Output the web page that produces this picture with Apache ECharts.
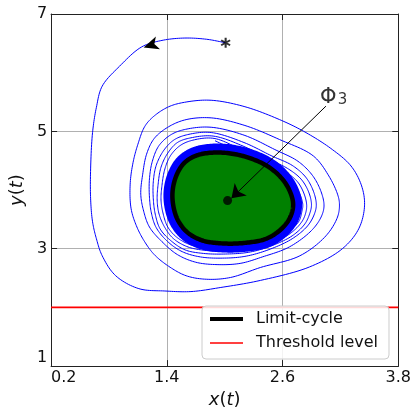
<!DOCTYPE html>
<html>
<head>
<meta charset="utf-8">
<script src="https://cdn.jsdelivr.net/npm/echarts@6/dist/echarts.min.js"></script>
<style>
  html, body { margin: 0; padding: 0; background: #fff; }
  #chart { width: 414px; height: 414px; }
</style>
</head>
<body>
<div id="chart"></div>
<script>
// Axis ticks
const xTicks = [0.2, 1.4, 2.6, 3.8];
const yTicks = [1, 3, 5, 7];

// Threshold level for y(t)
const thresholdLevel = 2;

// Initial state and interior equilibrium Φ3
const startPoint = [2.01, 6.51];
const equilibrium = [2.03, 3.82];

// Direction marker on the first arc of the trajectory
const flowArrow = [1.16, 6.43];

// Φ3 annotation: label position and arrow from label to equilibrium
const phiLabelPos = [3.13, 5.61];
const phiArrowFrom = [3.05, 5.43];
const phiArrowTo = [2.07, 3.86];

// Trajectory (x, y) spiralling from the initial state onto the limit cycle
const trajectory = [
  // first turn
  [2.01, 6.51], [1.81, 6.57], [1.58, 6.59], [1.35, 6.55], [1.14, 6.44], [0.91, 6.11],
  [0.73, 5.77], [0.67, 5.41], [0.63, 4.98], [0.61, 4.36], [0.61, 3.85], [0.63, 3.46],
  [0.67, 3.17], [0.73, 2.88], [0.87, 2.54], [1.11, 2.32], [1.38, 2.28], [1.65, 2.27],
  [1.96, 2.34], [2.37, 2.46], [2.88, 2.69], [3.22, 3.00], [3.39, 3.34], [3.45, 3.73],
  [3.42, 4.07], [3.31, 4.41], [3.10, 4.71], [2.82, 5.00], [2.57, 5.20], [2.21, 5.42],
  // second turn
  [1.86, 5.53], [1.60, 5.50], [1.42, 5.42], [1.26, 5.25], [1.17, 5.08], [1.10, 4.78],
  [1.05, 4.47], [1.02, 4.10], [1.03, 3.68], [1.09, 3.37], [1.17, 3.12], [1.27, 2.90],
  [1.42, 2.70], [1.60, 2.54], [1.81, 2.48], [2.06, 2.51], [2.37, 2.68], [2.78, 2.88],
  [3.05, 3.22], [3.17, 3.54], [3.19, 3.76], [3.17, 3.93], [3.08, 4.24], [2.92, 4.58],
  [2.57, 4.86], [2.21, 5.10],
  // third turn
  [1.86, 5.23], [1.60, 5.20], [1.42, 5.08], [1.27, 4.88], [1.19, 4.61], [1.15, 4.27],
  [1.13, 3.93], [1.16, 3.64], [1.22, 3.37], [1.35, 3.12], [1.51, 2.90], [1.70, 2.77],
  [1.91, 2.73], [2.16, 2.75], [2.39, 2.86], [2.67, 3.03], [2.90, 3.31], [3.00, 3.54],
  [3.03, 3.73], [3.00, 3.97], [2.91, 4.25], [2.76, 4.49], [2.52, 4.69], [2.21, 4.93],
  // fourth turn
  [1.86, 5.07], [1.61, 5.04], [1.45, 4.95], [1.32, 4.76], [1.25, 4.49], [1.22, 4.19],
  [1.22, 3.88], [1.24, 3.61], [1.29, 3.36], [1.41, 3.12], [1.56, 2.95], [1.75, 2.86],
  [1.98, 2.84], [2.21, 2.87], [2.45, 2.98], [2.70, 3.17], [2.86, 3.39], [2.93, 3.59],
  [2.95, 3.75], [2.92, 3.98], [2.84, 4.22], [2.70, 4.42], [2.49, 4.58], [2.20, 4.81],
  // fifth turn
  [1.86, 4.98], [1.63, 4.95], [1.48, 4.86], [1.37, 4.68], [1.29, 4.42], [1.26, 4.14],
  [1.26, 3.85], [1.28, 3.59], [1.33, 3.34], [1.44, 3.14], [1.59, 2.98], [1.78, 2.92],
  [2.01, 2.91], [2.25, 2.94], [2.47, 3.04], [2.70, 3.22], [2.83, 3.42], [2.88, 3.59],
  [2.90, 3.75], [2.87, 3.97], [2.79, 4.19], [2.65, 4.37], [2.45, 4.53], [2.19, 4.75],
  // sixth turn
  [1.88, 4.92], [1.65, 4.89], [1.51, 4.81], [1.41, 4.63], [1.34, 4.39], [1.31, 4.10],
  [1.30, 3.83], [1.32, 3.59], [1.38, 3.36], [1.47, 3.17], [1.62, 3.03], [1.81, 2.97],
  [2.02, 2.96], [2.27, 2.99], [2.48, 3.09], [2.68, 3.26], [2.80, 3.46], [2.84, 3.61],
  [2.85, 3.75], [2.82, 3.95], [2.75, 4.15], [2.62, 4.32], [2.43, 4.47], [2.18, 4.68],
  // seventh turn
  [1.89, 4.88], [1.67, 4.85], [1.54, 4.76], [1.44, 4.59], [1.38, 4.36], [1.35, 4.08],
  [1.34, 3.83], [1.36, 3.61], [1.41, 3.37], [1.50, 3.20], [1.64, 3.07], [1.83, 3.01],
  [2.04, 3.00], [2.28, 3.03], [2.49, 3.14], [2.67, 3.30], [2.77, 3.47], [2.80, 3.63],
  [2.81, 3.75], [2.78, 3.93], [2.71, 4.12], [2.59, 4.27], [2.41, 4.42], [2.17, 4.63],
  [1.90, 4.84]
];

// Closed limit cycle
const limitCycle = [
  [1.93, 4.64], [1.71, 4.59], [1.58, 4.46], [1.50, 4.25], [1.46, 3.98], [1.47, 3.71],
  [1.52, 3.47], [1.62, 3.27], [1.77, 3.14], [1.98, 3.09], [2.21, 3.10], [2.43, 3.17],
  [2.59, 3.34], [2.68, 3.54], [2.71, 3.76], [2.67, 4.00], [2.58, 4.22], [2.43, 4.42],
  [2.19, 4.58]
];

const FONT = 'DejaVu Sans';
const AXIS_COLOR = '#222';
const step = (arr) => +(arr[1] - arr[0]).toFixed(6);

// Centripetal Catmull-Rom through screen points, used to stroke smooth curves
function smoothScreenPath(pts, closed, segs) {
  const n = pts.length;
  const out = [];
  const get = (i) => {
    if (closed) return pts[(i + n) % n];
    if (i < 0) return [2 * pts[0][0] - pts[1][0], 2 * pts[0][1] - pts[1][1]];
    if (i > n - 1) return [2 * pts[n - 1][0] - pts[n - 2][0], 2 * pts[n - 1][1] - pts[n - 2][1]];
    return pts[i];
  };
  const knot = (a, b) => Math.max(Math.sqrt(Math.hypot(b[0] - a[0], b[1] - a[1])), 1e-4);
  const lerp = (a, b, ta, tb, t) => {
    const u = (t - ta) / (tb - ta);
    return [a[0] + (b[0] - a[0]) * u, a[1] + (b[1] - a[1]) * u];
  };
  const count = closed ? n : n - 1;
  for (let i = 0; i < count; i++) {
    const p0 = get(i - 1), p1 = get(i), p2 = get(i + 1), p3 = get(i + 2);
    const t0 = 0, t1 = t0 + knot(p0, p1), t2 = t1 + knot(p1, p2), t3 = t2 + knot(p2, p3);
    for (let s = 0; s < segs; s++) {
      const t = t1 + (t2 - t1) * s / segs;
      const a1 = lerp(p0, p1, t0, t1, t);
      const a2 = lerp(p1, p2, t1, t2, t);
      const a3 = lerp(p2, p3, t2, t3, t);
      const b1 = lerp(a1, a2, t0, t2, t);
      const b2 = lerp(a2, a3, t1, t3, t);
      out.push(lerp(b1, b2, t1, t2, t));
    }
  }
  if (!closed) out.push(pts[n - 1]);
  return out;
}

const chart = echarts.init(document.getElementById('chart'), null, { renderer: 'canvas' });

function frameAxis(ticks, position, withLabels, extra) {
  return Object.assign({
    type: 'value',
    position: position,
    min: ticks[0],
    max: ticks[ticks.length - 1],
    interval: step(ticks),
    axisLine: { show: true, onZero: false, lineStyle: { color: AXIS_COLOR, width: 1 } },
    axisTick: { show: true, inside: true, length: 6, lineStyle: { color: AXIS_COLOR, width: 1 } },
    axisLabel: { show: false },
    splitLine: { show: withLabels, lineStyle: { color: '#b0b0b0', width: 1 } }
  }, extra || {});
}

const option = {
  animation: false,
  backgroundColor: '#fff',
  grid: { left: 48, right: 14, top: 14, bottom: 45, containLabel: false },
  xAxis: [
    frameAxis(xTicks, 'bottom', true, {
      axisLabel: {
        show: true, fontSize: 16, fontFamily: FONT, color: '#111', margin: 4,
        alignMinLabel: 'left',
        formatter: (v) => v.toFixed(1)
      },
      name: '{i|x}{n|(}{i|t}{n|)}',
      nameLocation: 'middle',
      nameGap: 20,
      nameTextStyle: {
        rich: {
          i: { fontSize: 18, fontFamily: FONT, fontStyle: 'italic', color: '#111' },
          n: { fontSize: 18, fontFamily: FONT, color: '#111' }
        }
      }
    }),
    frameAxis(xTicks, 'top', false)
  ],
  yAxis: [
    frameAxis(yTicks, 'left', true, {
      axisLabel: {
        show: true, fontSize: 16, fontFamily: FONT, color: '#111', margin: 4,
        verticalAlignMinLabel: 'bottom',
        formatter: (v) => String(v)
      },
      name: '{i|y}{n|(}{i|t}{n|)}',
      nameLocation: 'middle',
      nameGap: 22,
      nameTextStyle: {
        rich: {
          i: { fontSize: 18, fontFamily: FONT, fontStyle: 'italic', color: '#111' },
          n: { fontSize: 18, fontFamily: FONT, color: '#111' }
        }
      }
    }),
    frameAxis(yTicks, 'right', false)
  ],
  legend: {
    orient: 'vertical',
    left: 202,
    top: 306,
    padding: [5, 11, 8, 8],
    itemGap: 8,
    itemWidth: 33,
    itemHeight: 14,
    symbolKeepAspect: true,
    backgroundColor: 'rgba(255,255,255,0.85)',
    borderColor: '#cccccc',
    borderWidth: 1,
    borderRadius: 4,
    textStyle: { fontSize: 16, fontFamily: FONT, color: '#111', padding: [0, 0, 0, 8], lineHeight: 16 },
    data: [
      { name: 'Limit-cycle', icon: 'path://M0,0H33V4H0Z' },
      { name: 'Threshold level', icon: 'path://M0,0H33V1.6H0Z' }
    ]
  },
  series: [
    {
      name: 'trajectory',
      type: 'custom',
      data: trajectory,
      encode: { x: 0, y: 1 },
      itemStyle: { color: '#0000ff' },
      silent: true,
      z: 2,
      renderItem: function (params, api) {
        if (params.dataIndex !== 0) return null;
        const pts = smoothScreenPath(trajectory.map((p) => api.coord(p)), false, 12);
        return {
          type: 'polyline',
          shape: { points: pts },
          style: { fill: null, stroke: '#0000ff', lineWidth: 1 }
        };
      }
    },
    {
      name: 'Threshold level',
      type: 'line',
      data: [[xTicks[0], thresholdLevel], [xTicks[xTicks.length - 1], thresholdLevel]],
      symbol: 'none',
      lineStyle: { color: '#ff0000', width: 1.8 },
      itemStyle: { color: '#ff0000' },
      silent: true,
      z: 2
    },
    {
      name: 'Limit-cycle',
      type: 'custom',
      data: [limitCycle[0]],
      encode: { x: 0, y: 1 },
      itemStyle: { color: '#000' },
      silent: true,
      z: 3,
      renderItem: function (params, api) {
        const pts = smoothScreenPath(limitCycle.map((p) => api.coord(p)), true, 16);
        return {
          type: 'group',
          children: [
            { type: 'polygon', shape: { points: pts },
              style: { fill: '#0000ff', stroke: '#0000ff', lineWidth: 18, lineJoin: 'round' } },
            { type: 'polygon', shape: { points: pts },
              style: { fill: '#008000', stroke: null } },
            { type: 'polygon', shape: { points: pts },
              style: { fill: null, stroke: '#000', lineWidth: 4.5, lineJoin: 'round' } }
          ]
        };
      }
    },
    {
      name: 'equilibrium',
      type: 'scatter',
      data: [equilibrium],
      symbolSize: 9,
      itemStyle: { color: '#000' },
      silent: true,
      z: 6
    },
    {
      name: 'start',
      type: 'scatter',
      data: [startPoint],
      symbol: 'path://M-1,-5L1,-5L1,5L-1,5Z M3.83,-3.366L4.83,-1.634L-3.83,3.366L-4.83,1.634Z M4.83,1.634L3.83,3.366L-4.83,-1.634L-3.83,-3.366Z',
      symbolSize: 10,
      itemStyle: { color: '#000' },
      silent: true,
      z: 6
    },
    {
      name: 'flow',
      type: 'scatter',
      data: [flowArrow],
      symbol: 'arrow',
      symbolSize: [10, 15],
      symbolRotate: 108,
      itemStyle: { color: '#000', opacity: 1 },
      silent: true,
      z: 6
    },
    {
      name: 'phiArrow',
      type: 'lines',
      coordinateSystem: 'cartesian2d',
      data: [{ coords: [phiArrowFrom, phiArrowTo] }],
      symbol: ['none', 'arrow'],
      symbolSize: 13,
      lineStyle: { color: '#000', width: 1, opacity: 1 },
      silent: true,
      z: 7
    },
    {
      name: 'phiLabel',
      type: 'scatter',
      data: [phiLabelPos],
      symbolSize: 1,
      itemStyle: { color: 'rgba(0,0,0,0)' },
      label: {
        show: true,
        position: 'inside',
        formatter: '{p|Φ}{s|3}',
        rich: {
          p: { fontSize: 21, fontFamily: FONT, color: '#000', verticalAlign: 'bottom', lineHeight: 24 },
          s: { fontSize: 15, fontFamily: FONT, color: '#000', verticalAlign: 'bottom', lineHeight: 17, padding: [0, 0, 0, 1] }
        }
      },
      silent: true,
      z: 7
    }
  ]
};

chart.setOption(option);
</script>
</body>
</html>
